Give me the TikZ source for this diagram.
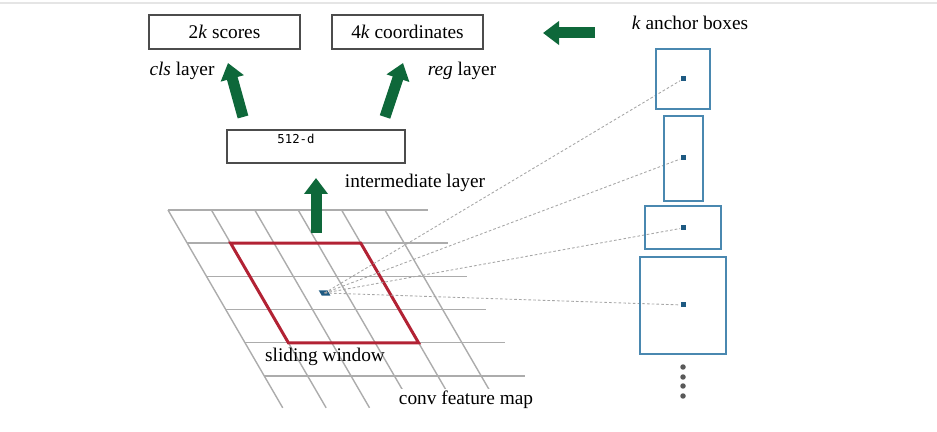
\documentclass[tikz,border=0pt]{standalone}
\usepackage{fontspec}
\setmainfont{Liberation Serif}
\newfontfamily\monofont{DejaVu Sans Mono}
\usepackage{tikz}
\usetikzlibrary{arrows.meta}
\pgfdeclarelayer{edgelayer}
\pgfdeclarelayer{nodelayer}
\pgfsetlayers{edgelayer,nodelayer,main}
\definecolor{arrowgreen}{RGB}{14,104,58}
\definecolor{windowred}{RGB}{178,34,52}
\definecolor{anchorblue}{RGB}{74,136,176}
\definecolor{dotblue}{RGB}{30,90,130}
\definecolor{gridgray}{RGB}{172,172,172}
\tikzstyle{box}=[draw=black!70, line width=0.8pt, inner sep=0, minimum height=0.68cm, font=\fontsize{11}{13}\selectfont]
\tikzstyle{txt}=[inner sep=1pt, font=\fontsize{11}{13}\selectfont]
\tikzstyle{anchorbox}=[draw=anchorblue, line width=1.1pt, inner sep=0]
\tikzstyle{anchordot}=[rectangle, fill=dotblue, minimum size=0.1cm, inner sep=0]
\tikzstyle{moredot}=[circle, fill=black!65, minimum size=0.11cm, inner sep=0]
\tikzstyle{bigarrow}=[draw=arrowgreen, line width=0.22cm, -{Triangle[width=0.46cm,length=0.32cm]}]
\tikzstyle{gridline}=[draw=gridgray, line width=0.8pt]
\tikzstyle{ray}=[draw=gray!70, line width=0.5pt, dash pattern=on 1.5pt off 1.2pt]

\begin{document}
\begin{tikzpicture}[x=0.02cm, y=-0.02cm]
	\useasboundingbox (0,0) rectangle (937,432);
	\draw [gray!20, line width=0.8pt] (0,3) -- (937,3);
	\begin{pgfonlayer}{nodelayer}
		\node [style=box, minimum width=3.02cm] (1) at (224.5,32) {2\textit{k} scores};
		\node [style=box, minimum width=3.02cm] (2) at (407.5,32) {4\textit{k} coordinates};
		\node [style=box, minimum width=3.56cm, minimum height=0.66cm] (3) at (316,146.5) {};
		\node [inner sep=0, font=\monofont\fontsize{7}{8}\selectfont] (4) at (296,139) {512-d};
		\node [style=txt] (5) at (182,71) {\textit{cls} layer};
		\node [style=txt] (6) at (462,71) {\textit{reg} layer};
		\node [style=txt] (7) at (415,183) {intermediate layer};
		\node [style=txt] (8) at (690,23) {\textit{k} anchor boxes};
		\node [style=txt] (9) at (325,357) {sliding window};
		\node [style=txt, fill=white] (10) at (466,400) {conv feature map};
		\node [style=anchorbox, minimum width=1.08cm, minimum height=1.2cm] (11) at (683,79) {};
		\node [style=anchorbox, minimum width=0.78cm, minimum height=1.7cm] (12) at (683.5,158.5) {};
		\node [style=anchorbox, minimum width=1.52cm, minimum height=0.86cm] (13) at (683,227.5) {};
		\node [style=anchorbox, minimum width=1.72cm, minimum height=1.94cm] (14) at (683,305.5) {};
		\node [style=anchordot] (15) at (683,79) {};
		\node [style=anchordot] (16) at (683,158) {};
		\node [style=anchordot] (17) at (683,228) {};
		\node [style=anchordot] (18) at (683,305) {};
		\node [style=moredot] (19) at (683,367) {};
		\node [style=moredot] (20) at (683,377) {};
		\node [style=moredot] (21) at (683,386) {};
		\node [style=moredot] (22) at (683,396) {};
	\end{pgfonlayer}
	\begin{pgfonlayer}{edgelayer}
		% feature map, slanted cells
		\begin{scope}[shift={(168,210)}, x={(0.868cm,0cm)}, y={(0.3851cm,-0.664cm)}]
			\draw [style=gridline] (0,0) -- (6,0);
			\draw [style=gridline] (0,1) -- (6,1);
			\draw [style=gridline] (0,2) -- (6,2);
			\draw [style=gridline] (0,3) -- (6,3);
			\draw [style=gridline] (0,4) -- (6,4);
			\draw [style=gridline] (0,5) -- (6,5);
			\draw [style=gridline] (0,0) -- (0,5.96);
			\draw [style=gridline] (1,0) -- (1,5.96);
			\draw [style=gridline] (2,0) -- (2,5.96);
			\draw [style=gridline] (3,0) -- (3,5.96);
			\draw [style=gridline] (4,0) -- (4,5.96);
			\draw [style=gridline] (5,0) -- (5,5.96);
			\draw [windowred, line width=1.7pt, line join=miter] (1,1) -- (4,1) -- (4,4) -- (1,4) -- cycle;
			\fill [dotblue] (2.4,2.42) -- (2.6,2.42) -- (2.6,2.58) -- (2.4,2.58) -- cycle;
			\coordinate (23) at (2.5,2.5);
		\end{scope}
		\draw [style=ray] (23) to (15);
		\draw [style=ray] (23) to (16);
		\draw [style=ray] (23) to (17);
		\draw [style=ray] (23) to (18);
	\end{pgfonlayer}
	\coordinate (24) at (243,117);
	\coordinate (25) at (228,63);
	\coordinate (26) at (385,117);
	\coordinate (27) at (403,63);
	\coordinate (28) at (316,233);
	\coordinate (29) at (316,178);
	\coordinate (30) at (595,33);
	\coordinate (31) at (543,33);
	\draw [style=bigarrow] (24) to (25);
	\draw [style=bigarrow] (26) to (27);
	\draw [style=bigarrow] (28) to (29);
	\draw [style=bigarrow] (30) to (31);
\end{tikzpicture}
\end{document}
